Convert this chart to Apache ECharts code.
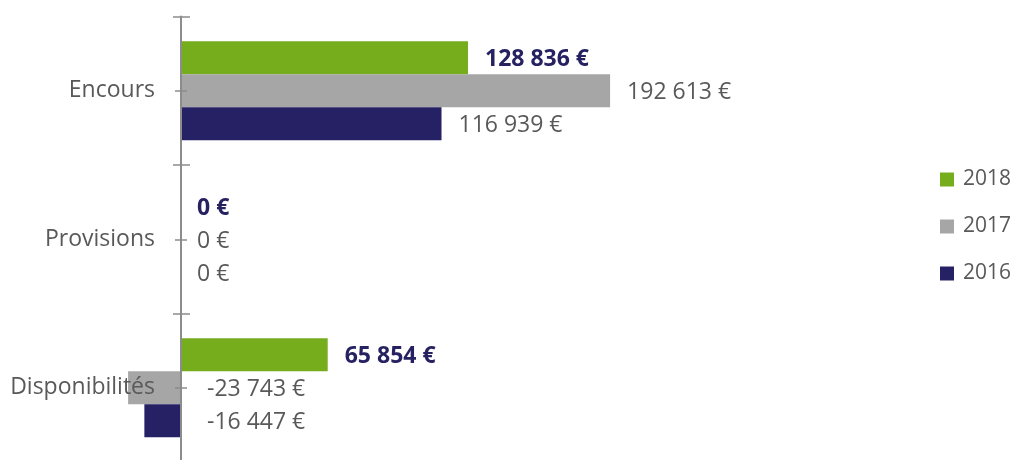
<!DOCTYPE html>
<html>
<head>
<meta charset="utf-8">
<script src="https://cdn.jsdelivr.net/npm/echarts@6/dist/echarts.min.js"></script>
<style>
  html, body { margin: 0; padding: 0; background: #fff; }
  #chart { width: 1020px; height: 460px; }
</style>
</head>
<body>
<div id="chart"></div>
<script>
// categories top to bottom
var categories = ["Encours", "Provisions", "Disponibilités"];
var years = ["2018", "2017", "2016"];
var values2018 = [128836, 0, 65854];
var values2017 = [192613, 0, -23743];
var values2016 = [116939, 0, -16447];

var colors = ["#76ad1c", "#a6a6a6", "#262064"];
var font = "Open Sans";

function euro(v) {
  var s = String(Math.abs(v)).replace(/\B(?=(\d{3})+(?!\d))/g, " ");
  return (v < 0 ? "-" : "") + s + " €";
}

function makeData(arr) {
  return arr.map(function (v) {
    return {
      value: v,
      label: { distance: v < 0 ? 26 : (v === 0 ? 16 : 17) }
    };
  });
}

var allValues = [values2018, values2017, values2016];

var series = years.map(function (y, i) {
  var bold = i === 0;
  return {
    name: y,
    type: "bar",
    yAxisIndex: 0,
    barWidth: 33,
    barGap: 0,
    clip: false,
    itemStyle: { color: colors[i] },
    label: {
      show: true,
      position: "right",
      offset: [0, 2],
      formatter: function (p) { return euro(p.value); },
      fontFamily: font,
      fontSize: 23,
      fontWeight: bold ? "bold" : "normal",
      color: bold ? "#262262" : "#595959"
    },
    data: makeData(allValues[i])
  };
});

var tickColor = "#8c8c8c";

// several overlapping category axes to get crossing ticks
function yAx(opts) {
  return {
    type: "category",
    position: "left",
    offset: 0,
    inverse: true,
    data: categories,
    z: 5,
    axisLine: { show: opts.line, onZero: false, lineStyle: { color: tickColor, width: 2 } },
    axisTick: {
      show: true,
      inside: opts.inside,
      length: opts.len,
      alignWithLabel: opts.center,
      lineStyle: { color: tickColor, width: 1.5 }
    },
    axisLabel: opts.label ? {
      show: true,
      margin: 26,
      verticalAlign: "middle",
      padding: [6, 0, 0, 0],
      fontFamily: font,
      fontSize: 23,
      color: "#595959"
    } : { show: false },
    splitLine: { show: false }
  };
}

var chart = echarts.init(document.getElementById("chart"));
chart.setOption({
  animation: false,
  grid: {
    left: 181,
    width: 779.7,
    top: 16.5,
    height: 445.5,
    outerBoundsMode: "none"
  },
  legend: {
    orient: "vertical",
    left: 935,
    top: 164,
    itemWidth: 14,
    itemHeight: 14,
    itemGap: 26,
    icon: "rect",
    data: years,
    textStyle: { fontFamily: font, fontSize: 21, color: "#595959", padding: [0, 0, 0, 4] }
  },
  xAxis: {
    type: "value",
    min: 0,
    max: 350000,
    show: false
  },
  yAxis: [
    yAx({ line: true, inside: false, len: 8, center: false, label: true }),
    yAx({ line: false, inside: true, len: 9, center: false, label: false }),
    yAx({ line: false, inside: false, len: 6, center: true, label: false }),
    yAx({ line: false, inside: true, len: 6, center: true, label: false })
  ],
  series: series
});
</script>
</body>
</html>
